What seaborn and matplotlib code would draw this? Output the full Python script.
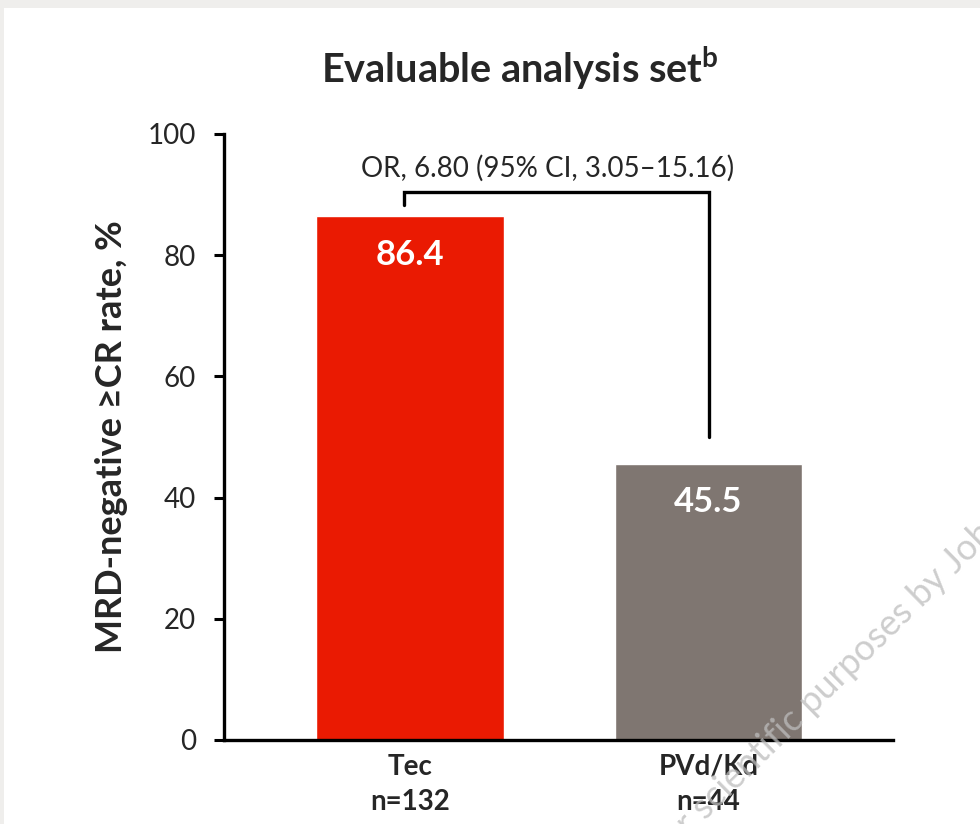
import matplotlib
matplotlib.use("Agg")
import numpy as np
import matplotlib.pyplot as plt
import seaborn as sns
import pandas as pd
from matplotlib.patches import Rectangle

# Data
groups = ["Tec", "PVd/Kd"]
group_n = [132, 44]
rates = [86.4, 45.5]
bar_colors = ["#ea1a02", "#7f7671"]
y_ticks = [0, 20, 40, 60, 80, 100]
odds_ratio_label = "OR, 6.80 (95% CI, 3.05\u201315.16)"

sns.set_theme(style="white")
plt.rcParams["font.family"] = ["Lato", "DejaVu Sans"]
plt.rcParams["mathtext.fontset"] = "custom"
plt.rcParams["mathtext.rm"] = "Lato"
plt.rcParams["mathtext.bf"] = "Lato:bold"

W, H = 980, 824
fig = plt.figure(figsize=(W / 100, H / 100), dpi=100)
fig.patch.set_facecolor("#efeeec")
fig.patches.append(Rectangle((4 / W, 0), 1, (H - 8) / H, transform=fig.transFigure,
                             facecolor="white", edgecolor="none", zorder=-10))

ax = fig.add_axes([224 / W, (H - 740) / H, (893 - 224) / W, (740 - 134) / H])
ax.set_facecolor("none")

df = pd.DataFrame({"group": groups, "rate": rates})
sns.barplot(data=df, x="group", y="rate", hue="group", palette=bar_colors,
            legend=False, width=0.627, saturation=1, ax=ax)

ax.set_xlim(-0.623, 1.618)
ax.set_ylim(0, 100)
ax.set_yticks(y_ticks)
ax.set_yticklabels([str(t) for t in y_ticks], fontsize=20)
ax.set_xticks(range(len(groups)))
ax.set_xticklabels([f"{g}\nn={n}" for g, n in zip(groups, group_n)],
                   fontsize=20, fontweight="bold", linespacing=1.45)

for side in ["top", "right"]:
    ax.spines[side].set_visible(False)
for side in ["left", "bottom"]:
    ax.spines[side].set_color("black")
    ax.spines[side].set_linewidth(2.4)
ax.tick_params(axis="y", direction="out", length=7, width=2.2, color="black", pad=13, left=True)
ax.tick_params(axis="x", length=0, pad=10)

ax.set_xlabel("")
ax.set_ylabel("MRD-negative \u2265CR rate, %", fontsize=26, fontweight="bold", labelpad=14)

# Value labels inside the bars
for i, v in enumerate(rates):
    ax.text(i, v - 6.3, f"{v:.1f}", ha="center", va="center", color="white",
            fontsize=25, fontweight="bold")

# Comparison bracket with odds ratio
ax.plot([-0.02, -0.02, 1.0, 1.0], [88.3, 90.4, 90.4, 50.0], color="black",
        lw=2.4, solid_joinstyle="miter", clip_on=False)
ax.text(0.46, 94.4, odds_ratio_label, ha="center", va="center", fontsize=20)

# Title
fig.text(520 / W, 1 - 68 / H, r"Evaluable analysis set$^{\mathbf{b}}$",
         ha="center", va="center", fontsize=28.5, fontweight="bold")

# Watermark, running diagonally off the lower-right corner
wm_prefix = "for scientific "
wm_text = wm_prefix + "purposes by Johnson & Johnson"
wm_size = 26
wm_angle = 44.5
renderer = fig.canvas.get_renderer()
probe = fig.text(0, 0, wm_prefix, fontsize=wm_size)
prefix_w = probe.get_window_extent(renderer).width
probe.remove()
ax_px, ay_px = 812, 716  # baseline point where "purposes" begins (pixels from top-left)
a = np.deg2rad(wm_angle)
sx = ax_px - prefix_w * np.cos(a)
sy = ay_px + prefix_w * np.sin(a)
fig.text(sx / W, 1 - sy / H, wm_text, rotation=wm_angle, rotation_mode="anchor",
         ha="left", va="baseline", fontsize=wm_size, color="#bdbdbd", alpha=0.75,
         zorder=5)

fig.savefig("out.png", dpi=100)
